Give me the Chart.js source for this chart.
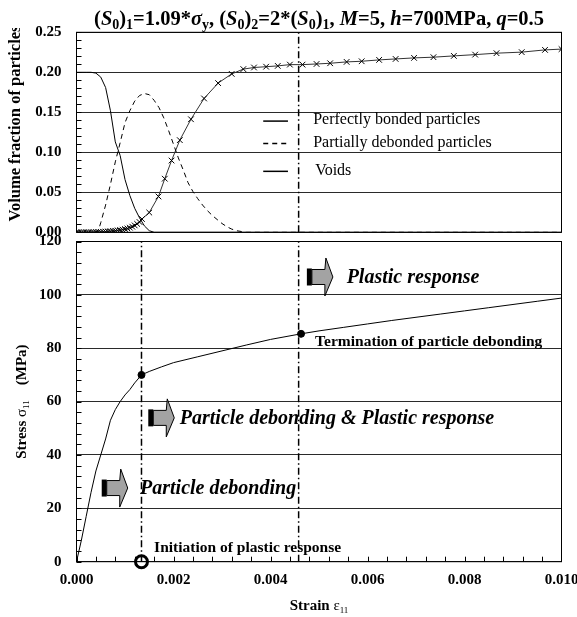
<!DOCTYPE html>
<html lang="en">
<head>
<meta charset="UTF-8">
<title>Particle debonding</title>
<style>
  body { margin: 0; background: #fff; }
  canvas { position: absolute; left: 0; }
  #top { top: 0; }
  #bottom { top: 226px; }
</style>
</head>
<body>
<canvas id="top" width="577" height="240"></canvas>
<canvas id="bottom" width="577" height="391"></canvas>
<script src="https://cdn.jsdelivr.net/npm/chart.js"></script>
<script>
// ---- data ----
const strainBonded = [0, 0.0002, 0.0003, 0.0004, 0.0005, 0.0006, 0.0007, 0.0008, 0.0009, 0.001, 0.0011, 0.0012, 0.0013, 0.0014, 0.0015, 0.0016, 0.010];
const bonded = [0.2, 0.2, 0.2, 0.199, 0.194, 0.181, 0.152, 0.113, 0.096, 0.066, 0.046, 0.030, 0.018, 0.008, 0.002, 0, 0];

const strainDebonded = [0, 0.0004, 0.00045, 0.0005, 0.0006, 0.0007, 0.0008, 0.0009, 0.001, 0.0011, 0.0012, 0.0013, 0.0014, 0.0015, 0.0016, 0.0017, 0.0018, 0.0019, 0.002, 0.0021, 0.0022, 0.0023, 0.0024, 0.0025, 0.0026, 0.0027, 0.0028, 0.0029, 0.003, 0.0031, 0.0032, 0.0033, 0.0034, 0.0035, 0.010];
const debonded = [0, 0, 0.002, 0.012, 0.034, 0.060, 0.088, 0.112, 0.137, 0.152, 0.164, 0.171, 0.1735, 0.172, 0.165, 0.156, 0.143, 0.127, 0.110, 0.093, 0.078, 0.062, 0.051, 0.042, 0.034, 0.027, 0.021, 0.016, 0.011, 0.007, 0.004, 0.002, 0.001, 0, 0];

const strainVoids = [0, 0.00005, 0.0001, 0.00015, 0.0002, 0.00025, 0.0003, 0.00035, 0.0004, 0.00045, 0.0005, 0.00055, 0.0006, 0.00065, 0.0007, 0.00075, 0.0008, 0.00085, 0.0009, 0.00095, 0.001, 0.00105, 0.0011, 0.00115, 0.0012, 0.00125, 0.0013, 0.00135, 0.0015, 0.00169, 0.00182, 0.00196, 0.00213, 0.00236, 0.00263, 0.00292, 0.0032, 0.00344, 0.00366, 0.00391, 0.00415, 0.0044, 0.00466, 0.00495, 0.00523, 0.00557, 0.00588, 0.00624, 0.00658, 0.00696, 0.00736, 0.00778, 0.00822, 0.00866, 0.00918, 0.00966, 0.010];
const voids = [0, 0, 0, 0, 0, 0, 0, 0.0002, 0.0003, 0.0004, 0.0005, 0.0007, 0.0009, 0.0011, 0.0013, 0.0016, 0.0019, 0.0023, 0.0028, 0.0033, 0.0040, 0.0048, 0.0058, 0.0070, 0.0086, 0.0105, 0.0128, 0.0166, 0.0247, 0.0448, 0.067, 0.0897, 0.1152, 0.1413, 0.1673, 0.1865, 0.198, 0.204, 0.206, 0.207, 0.208, 0.2096, 0.2096, 0.2104, 0.2113, 0.213, 0.2138, 0.2155, 0.2167, 0.218, 0.2189, 0.2205, 0.2221, 0.2239, 0.2252, 0.228, 0.229];

const strainStress = [0, 0.0001, 0.0002, 0.0003, 0.0004, 0.0005, 0.0006, 0.0007, 0.0008, 0.0009, 0.001, 0.0011, 0.0012, 0.00134, 0.0015, 0.00175, 0.002, 0.0025, 0.003, 0.0035, 0.004, 0.00463, 0.005, 0.0055, 0.006, 0.0065, 0.007, 0.0075, 0.008, 0.0085, 0.009, 0.0095, 0.010];
const stress = [0, 8, 17, 26, 34, 40, 46, 53, 57, 60, 62.5, 64.5, 67, 70, 71.3, 73, 74.6, 76.8, 79, 81.2, 83.3, 85.4, 86.5, 87.8, 89.1, 90.4, 91.6, 92.8, 94.0, 95.2, 96.4, 97.6, 98.8];

// initiation of plastic response, termination of particle debonding
const eventStrain = [0.00134, 0.00458];
const eventPointStrain = [0.00134, 0.00463];
const eventPointStress = [70, 85.4];

const strainTicks = [0, 0.002, 0.004, 0.006, 0.008, 0.010];
const volTicks = [0, 0.05, 0.10, 0.15, 0.20, 0.25];
const stressTicks = [0, 20, 40, 60, 80, 100, 120];

const seriesNames = ['Perfectly bonded particles', 'Partially debonded particles', 'Voids'];

// ---- helpers ----
const SERIF = '"Liberation Serif", "Times New Roman", serif';
const f = (style, size) => style + ' ' + size + 'px ' + SERIF;
const xy = (xs, ys) => xs.map((x, i) => ({x: x, y: ys[i]}));
const DASHDOT = [7, 3, 1.5, 3];

// chart.js reserves room for half tick labels; we want the plot box fixed
function noPad(s) {
  s.paddingTop = 0; s.paddingBottom = 0; s.paddingLeft = 0; s.paddingRight = 0;
}

function drawRich(ctx, parts, x, y, align) {
  let w = 0;
  parts.forEach(p => { ctx.font = p[1]; w += ctx.measureText(p[0]).width; });
  let cx = align === 'center' ? x - w / 2 : x;
  ctx.textAlign = 'left';
  ctx.textBaseline = 'alphabetic';
  parts.forEach(p => {
    ctx.font = p[1];
    ctx.fillText(p[0], cx, y + (p[2] || 0));
    cx += ctx.measureText(p[0]).width;
  });
}

function drawArrow(ctx, x, y) {
  ctx.save();
  ctx.fillStyle = '#000';
  ctx.fillRect(x, y - 8.5, 5, 17);
  ctx.beginPath();
  ctx.moveTo(x + 5, y - 7.5);
  ctx.lineTo(x + 18, y - 7.5);
  ctx.lineTo(x + 19, y - 19);
  ctx.lineTo(x + 26, y);
  ctx.lineTo(x + 18, y + 19);
  ctx.lineTo(x + 18, y + 7.5);
  ctx.lineTo(x + 5, y + 7.5);
  ctx.closePath();
  ctx.fillStyle = '#a3a3a3';
  ctx.fill();
  ctx.lineWidth = 1;
  ctx.strokeStyle = '#000';
  ctx.stroke();
  ctx.restore();
}

// frame + inward minor ticks
const framePlugin = {
  id: 'frame',
  afterDraw(chart, args, opts) {
    const ctx = chart.ctx, a = chart.chartArea;
    const ys = chart.scales.y, xs = chart.scales.x;
    ctx.save();
    ctx.strokeStyle = '#000';
    ctx.lineWidth = 1;
    ctx.strokeRect(a.left, a.top, a.right - a.left, a.bottom - a.top);
    ctx.beginPath();
    for (let v = ys.min; v <= ys.max + 1e-9; v += opts.yStep) {
      const p = Math.round(ys.getPixelForValue(v)) + 0.5;
      ctx.moveTo(a.left, p); ctx.lineTo(a.left + 5, p);
    }
    if (opts.xStep) {
      for (let v = xs.min; v <= xs.max + 1e-12; v += opts.xStep) {
        const p = Math.round(xs.getPixelForValue(v)) + 0.5;
        ctx.moveTo(p, a.bottom); ctx.lineTo(p, a.bottom - 5);
      }
    }
    ctx.stroke();
    ctx.restore();
  }
};

const tickFont = {family: SERIF, size: 15, weight: 'bold'};

// ---- top panel: volume fractions ----
const topNotes = {
  id: 'topNotes',
  afterDraw(chart) {
    const ctx = chart.ctx, a = chart.chartArea;
    const xs = chart.scales.x, ys = chart.scales.y;
    ctx.save();
    ctx.fillStyle = '#000';
    // title
    const B = f('bold', 20.5), BI = f('italic bold', 20.5), S = f('bold', 14);
    drawRich(ctx, [['(', B], ['S', BI], ['0', S, 4], [')', B], ['1', S, 4], ['=1.09*', B], ['σ', BI], ['y', S, 4],
      [', (', B], ['S', BI], ['0', S, 4], [')', B], ['2', S, 4], ['=2*(', B], ['S', BI], ['0', S, 4], [')', B], ['1', S, 4],
      [', ', B], ['M', BI], ['=5, ', B], ['h', BI], ['=700MPa, ', B], ['q', BI], ['=0.5', B]],
      (a.left + a.right) / 2, 25, 'center');
    // y title (clipped at top like the original)
    ctx.save();
    ctx.beginPath();
    ctx.rect(0, 28, 40, 220);
    ctx.clip();
    ctx.translate(20, 123.5);
    ctx.rotate(-Math.PI / 2);
    drawRich(ctx, [['Volume fraction of particles', f('bold', 16.5)]], 0, 0, 'center');
    ctx.restore();
    // legend
    const lx0 = xs.getPixelForValue(0.00385), lx1 = xs.getPixelForValue(0.00436), tx = xs.getPixelForValue(0.00488);
    const rows = [[0.139, 0.141, []], [0.111, 0.112, [5, 4]], [0.0762, 0.0775, []]];
    rows.forEach((r, i) => {
      const ly = ys.getPixelForValue(r[0]);
      ctx.beginPath();
      ctx.setLineDash(r[2]);
      ctx.lineWidth = 1.5;
      ctx.strokeStyle = '#000';
      ctx.moveTo(lx0, ly); ctx.lineTo(lx1, ly);
      ctx.stroke();
      ctx.setLineDash([]);
      ctx.font = f('', 16);
      ctx.textBaseline = 'middle';
      ctx.textAlign = 'left';
      ctx.fillText(seriesNames[i], tx + (i === 2 ? 2 : 0), ys.getPixelForValue(r[1]));
    });
    ctx.restore();
  }
};

new Chart(document.getElementById('top'), {
  type: 'scatter',
  data: {
    datasets: [
      {label: seriesNames[0], data: xy(strainBonded, bonded), showLine: true, borderColor: '#000', borderWidth: 1, pointRadius: 0},
      {label: seriesNames[1], data: xy(strainDebonded, debonded), showLine: true, borderColor: '#000', borderWidth: 1, borderDash: [5, 4], pointRadius: 0},
      {label: seriesNames[2], data: xy(strainVoids, voids), showLine: true, borderColor: '#333', borderWidth: 1,
        pointStyle: 'crossRot', pointRadius: 4, pointBorderColor: '#000', pointBorderWidth: 1},
      {label: 'termination', data: [{x: eventStrain[1], y: 0}, {x: eventStrain[1], y: 0.25}], showLine: true,
        borderColor: '#000', borderWidth: 1.5, borderDash: DASHDOT, pointRadius: 0}
    ]
  },
  options: {
    responsive: false,
    animation: false,
    layout: {padding: {top: 32.3, right: 15.5, left: 0, bottom: 7.7}},
    plugins: {legend: {display: false}, tooltip: {enabled: false}, frame: {yStep: 0.01}},
    scales: {
      x: {type: 'linear', display: false, min: 0, max: 0.01},
      y: {
        min: 0, max: 0.25,
        afterBuildTicks: s => { s.ticks = volTicks.map(v => ({value: v})); },
        afterFit: s => { s.width = 76.5; noPad(s); },
        ticks: {font: tickFont, color: '#000', padding: 15, callback: v => v.toFixed(2)},
        grid: {color: '#2a2a2a', lineWidth: 1, drawTicks: false},
        border: {display: false}
      }
    }
  },
  plugins: [framePlugin, topNotes]
});

// ---- bottom panel: stress ----
const bottomNotes = {
  id: 'bottomNotes',
  afterDraw(chart) {
    const ctx = chart.ctx, a = chart.chartArea;
    const xs = chart.scales.x, ys = chart.scales.y;
    const X = v => xs.getPixelForValue(v), Y = v => ys.getPixelForValue(v);
    ctx.save();
    ctx.fillStyle = '#000';
    // arrows and phase labels
    const big = f('italic bold', 20);
    [[0.00052, 27.6, 0.00131, 'Particle debonding'],
     [0.00148, 53.9, 0.00213, 'Particle debonding & Plastic response'],
     [0.00475, 106.7, 0.00557, 'Plastic response']].forEach(n => {
      drawArrow(ctx, X(n[0]), Y(n[1]));
      ctx.font = big;
      ctx.textAlign = 'left';
      ctx.textBaseline = 'middle';
      ctx.fillText(n[3], X(n[2]), Y(n[1]) + 1);
    });
    ctx.font = f('bold', 15.5);
    ctx.fillText('Termination of particle debonding', X(0.00492), Y(82.4));
    ctx.fillText('Initiation of plastic response', X(0.0016), Y(5.1));
    // axis titles
    const B = f('bold', 15), R = f('', 15), s = f('', 9);
    drawRich(ctx, [['Strain ', B], ['ε', R], ['11', s, 3]], (a.left + a.right) / 2, a.bottom + 48, 'center');
    ctx.save();
    ctx.translate(26, (a.top + a.bottom) / 2);
    ctx.rotate(-Math.PI / 2);
    drawRich(ctx, [['Stress ', B], ['σ', R], ['11', s, 3], ['    (MPa)', B]], 0, 0, 'center');
    ctx.restore();
    ctx.restore();
  }
};

new Chart(document.getElementById('bottom'), {
  type: 'scatter',
  data: {
    datasets: [
      {label: 'Stress', data: xy(strainStress, stress), showLine: true, borderColor: '#000', borderWidth: 1, pointRadius: 0},
      {label: 'initiation', data: [{x: eventStrain[0], y: 0}, {x: eventStrain[0], y: 120}], showLine: true,
        borderColor: '#000', borderWidth: 1.5, borderDash: DASHDOT, pointRadius: 0},
      {label: 'termination', data: [{x: eventStrain[1], y: 0}, {x: eventStrain[1], y: 120}], showLine: true,
        borderColor: '#000', borderWidth: 1.5, borderDash: DASHDOT, pointRadius: 0},
      {label: 'events', data: xy(eventPointStrain, eventPointStress), pointRadius: 3.5, backgroundColor: '#000', borderColor: '#000'},
      {label: 'plastic onset', data: [{x: eventStrain[0], y: 0}], pointRadius: 6, borderWidth: 3,
        backgroundColor: 'rgba(0,0,0,0)', borderColor: '#000', clip: false}
    ]
  },
  options: {
    responsive: false,
    animation: false,
    layout: {padding: {top: 15.5, right: 15.5, left: 0, bottom: 0}},
    plugins: {legend: {display: false}, tooltip: {enabled: false}, frame: {yStep: 4, xStep: 0.0004}},
    scales: {
      x: {
        type: 'linear', min: 0, max: 0.01,
        afterBuildTicks: s => { s.ticks = strainTicks.map(v => ({value: v})); },
        afterFit: s => { s.height = 55.3; noPad(s); },
        ticks: {font: tickFont, color: '#000', padding: 9, maxRotation: 0, callback: v => v.toFixed(3)},
        grid: {display: false, drawTicks: false},
        border: {display: false}
      },
      y: {
        min: 0, max: 120,
        afterBuildTicks: s => { s.ticks = stressTicks.map(v => ({value: v})); },
        afterFit: s => { s.width = 76.5; noPad(s); },
        ticks: {font: tickFont, color: '#000', padding: 15},
        grid: {color: '#2a2a2a', lineWidth: 1, drawTicks: false},
        border: {display: false}
      }
    }
  },
  plugins: [framePlugin, bottomNotes]
});
</script>
</body>
</html>
